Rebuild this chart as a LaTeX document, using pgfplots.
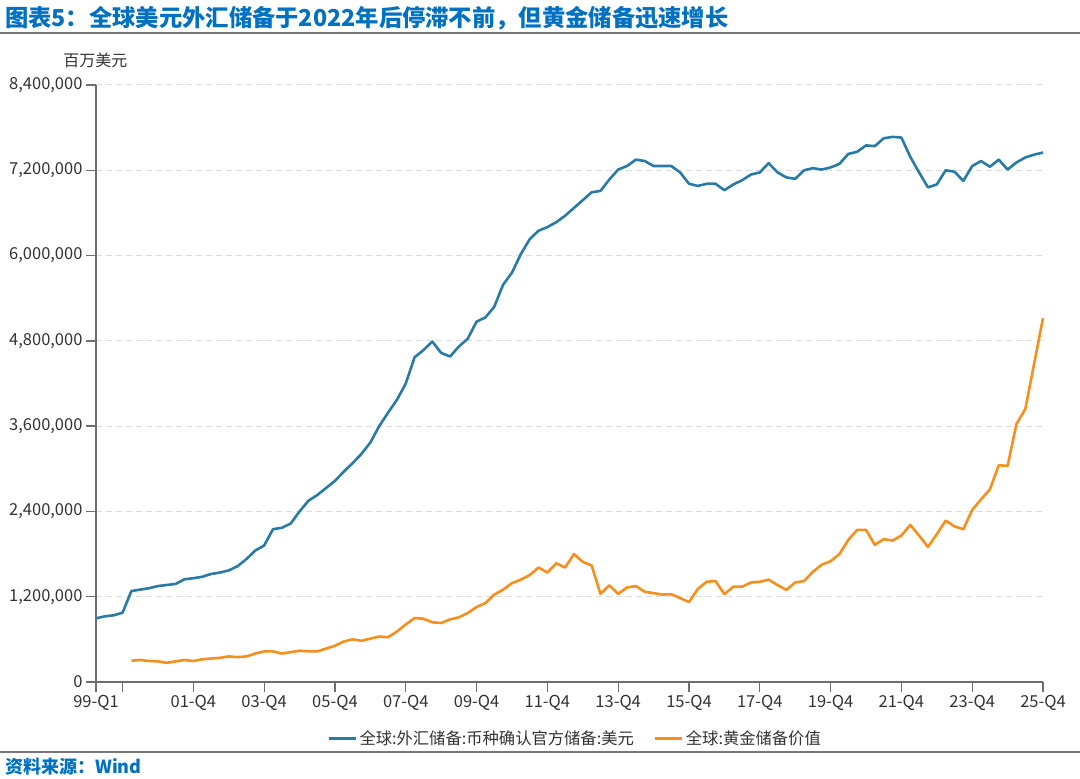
\documentclass[border=0pt]{standalone}
\usepackage{fontspec}
\setmainfont{Noto Sans CJK SC}
\usepackage{pgfplots}
\usepackage{pgfplotstable}
\pgfplotsset{compat=1.18}
\definecolor{blueline}{RGB}{41,123,165}
\definecolor{orangeline}{RGB}{247,143,30}
\definecolor{titleblue}{RGB}{0,112,192}
\definecolor{axisgray}{RGB}{110,110,110}
\definecolor{gridgray}{RGB}{220,220,220}
\definecolor{textgray}{RGB}{50,50,50}
\definecolor{rulegray}{RGB}{120,120,120}

% 全球:外汇储备:币种确认官方储备:美元 (百万美元), quarter index 0 = 99-Q1
\pgfplotstableread{
q v
0 896000
1 924000
2 938000
3 975000
4 1280000
5 1300000
6 1320000
7 1350000
8 1365000
9 1380000
10 1445000
11 1460000
12 1480000
13 1520000
14 1540000
15 1570000
16 1630000
17 1730000
18 1850000
19 1920000
20 2150000
21 2170000
22 2230000
23 2400000
24 2550000
25 2630000
26 2730000
27 2830000
28 2960000
29 3080000
30 3210000
31 3370000
32 3600000
33 3790000
34 3970000
35 4200000
36 4570000
37 4670000
38 4790000
39 4630000
40 4580000
41 4720000
42 4830000
43 5070000
44 5130000
45 5280000
46 5590000
47 5760000
48 6020000
49 6230000
50 6350000
51 6400000
52 6470000
53 6560000
54 6670000
55 6780000
56 6890000
57 6910000
58 7070000
59 7210000
60 7260000
61 7350000
62 7330000
63 7260000
64 7260000
65 7260000
66 7170000
67 7010000
68 6980000
69 7010000
70 7010000
71 6920000
72 7000000
73 7060000
74 7140000
75 7170000
76 7300000
77 7170000
78 7100000
79 7080000
80 7200000
81 7230000
82 7210000
83 7240000
84 7290000
85 7430000
86 7460000
87 7550000
88 7540000
89 7650000
90 7670000
91 7660000
92 7390000
93 7170000
94 6960000
95 7000000
96 7200000
97 7180000
98 7050000
99 7260000
100 7330000
101 7250000
102 7350000
103 7210000
104 7310000
105 7380000
106 7420000
107 7450000
}\fxdata

% 全球:黄金储备价值
\pgfplotstableread{
q v
4 300000
5 310000
6 295000
7 290000
8 270000
9 290000
10 310000
11 295000
12 320000
13 330000
14 340000
15 360000
16 350000
17 360000
18 400000
19 430000
20 430000
21 400000
22 420000
23 440000
24 430000
25 430000
26 470000
27 510000
28 570000
29 600000
30 580000
31 610000
32 640000
33 630000
34 710000
35 810000
36 900000
37 890000
38 840000
39 830000
40 880000
41 910000
42 970000
43 1055000
44 1110000
45 1230000
46 1300000
47 1390000
48 1440000
49 1505000
50 1610000
51 1540000
52 1670000
53 1610000
54 1800000
55 1690000
56 1640000
57 1240000
58 1360000
59 1240000
60 1330000
61 1350000
62 1270000
63 1250000
64 1230000
65 1235000
66 1180000
67 1125000
68 1310000
69 1410000
70 1420000
71 1235000
72 1340000
73 1340000
74 1400000
75 1410000
76 1440000
77 1365000
78 1295000
79 1400000
80 1420000
81 1550000
82 1650000
83 1700000
84 1800000
85 2000000
86 2140000
87 2140000
88 1930000
89 2010000
90 1990000
91 2060000
92 2210000
93 2060000
94 1900000
95 2080000
96 2270000
97 2190000
98 2150000
99 2420000
100 2570000
101 2710000
102 3050000
103 3040000
104 3630000
105 3840000
106 4480000
107 5120000
}\golddata

\begin{document}
\begin{tikzpicture}[x=1pt,y=1pt]
\path[use as bounding box] (-96,-97) rectangle (984,682);
% title
\node[anchor=west, inner sep=0pt, text=titleblue, font=\fontsize{23.3}{27}\selectfont\bfseries] at (-91,664) {图表5：全球美元外汇储备于2022年后停滞不前，但黄金储备迅速增长};
\draw[rulegray, line width=1.5pt] (-96,649) -- (984,649);
% footer
\draw[rulegray, line width=1.5pt] (-96,-70) -- (984,-70);
\node[anchor=west, inner sep=0pt, text=titleblue, font=\fontsize{18}{22}\selectfont\bfseries] at (-91,-85) {资料来源：Wind};
% unit
\node[inner sep=0pt, text=textgray, font=\fontsize{16}{19}\selectfont] at (-0.5,622) {百万美元};
\begin{axis}[
  at={(0,0)}, anchor=south west,
  scale only axis, width=947pt, height=597pt,
  xmin=0, xmax=107, ymin=0, ymax=8400000,
  scaled y ticks=false, scaled x ticks=false,
  axis x line=bottom, axis y line=left,
  axis line style={-, draw=axisgray, line width=1.3pt},
  tick align=outside, major tick length=10pt,
  tick style={axisgray, line width=1.3pt},
  xtick={0,3,11,19,27,35,43,51,59,67,75,83,91,99,107},
  xticklabels={99-Q1,,01-Q4,03-Q4,05-Q4,07-Q4,09-Q4,11-Q4,13-Q4,15-Q4,17-Q4,19-Q4,21-Q4,23-Q4,25-Q4},
  ytick={0,1200000,2400000,3600000,4800000,6000000,7200000,8400000},
  yticklabels={0,{1,200,000},{2,400,000},{3,600,000},{4,800,000},{6,000,000},{7,200,000},{8,400,000}},
  /pgf/number format/assume math mode=true,
  ticklabel style={font=\fontsize{16.5}{19}\selectfont, text=textgray},
  ymajorgrids, grid style={gridgray, line width=1pt, dash pattern=on 6pt off 4pt},
  legend columns=2,
  legend style={at={(0.506,-0.094)}, anchor=center, draw=none, fill=none,
    font=\fontsize{16.3}{19}\selectfont, text=textgray,
    /tikz/every even column/.append style={column sep=18pt}},
  legend image code/.code={\draw[#1, line width=3pt] (0pt,0pt) -- (27pt,0pt);},
  clip=false,
]
\addplot[blueline, line width=2.6pt, no marks, line join=round] table[x=q,y=v]{\fxdata};
\addlegendentry{全球:外汇储备:币种确认官方储备:美元}
\addplot[orangeline, line width=2.6pt, no marks, line join=round] table[x=q,y=v]{\golddata};
\addlegendentry{全球:黄金储备价值}
\end{axis}
\end{tikzpicture}
\end{document}
